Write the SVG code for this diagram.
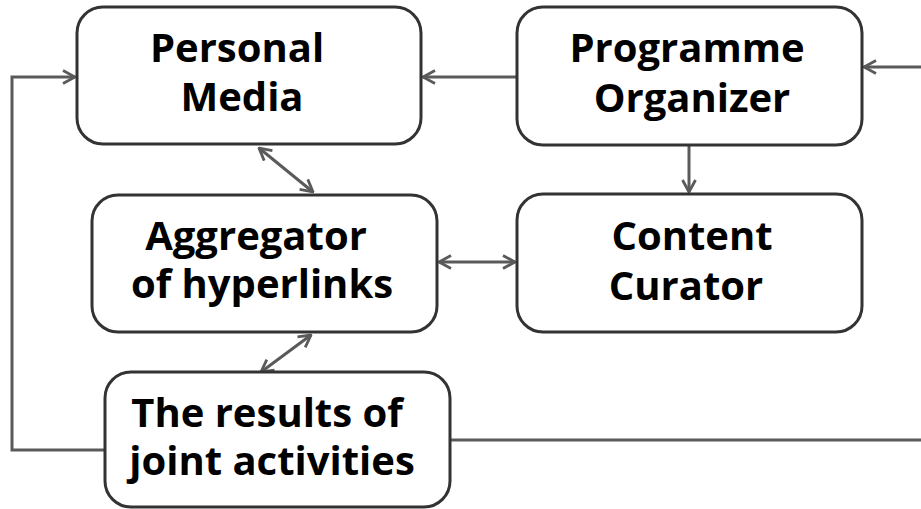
<svg xmlns="http://www.w3.org/2000/svg" width="921" height="509" viewBox="0 0 921 509">
  <style>
    .box { fill: #ffffff; stroke: #333333; stroke-width: 3; }
    .lbl { font-family: "Open Sans", "Liberation Sans", sans-serif; font-weight: 700; font-size: 40px; fill: #000000; text-anchor: middle; }
    .wire { fill: none; stroke: #5a5a5a; stroke-width: 3; }
  </style>
  <defs>
    <marker id="head" viewBox="0 0 16 16" refX="15" refY="8" markerWidth="16" markerHeight="16" markerUnits="userSpaceOnUse" orient="auto-start-reverse">
      <path d="M3,1.5 L15,8 L3,14.5" fill="none" stroke="#5a5a5a" stroke-width="2.8" stroke-linejoin="miter"/>
    </marker>
  </defs>
  <rect width="921" height="509" fill="#ffffff"/>

  <g id="connectors">
    <!-- Programme Organizer to Personal Media -->
    <line class="wire" x1="517" y1="77" x2="423" y2="77" marker-end="url(#head)"/>
    <!-- incoming from the right edge -->
    <line class="wire" x1="921" y1="67" x2="864" y2="67" marker-end="url(#head)"/>
    <!-- Programme Organizer to Content Curator -->
    <line class="wire" x1="689" y1="145" x2="689" y2="192" marker-end="url(#head)"/>
    <!-- Aggregator <-> Content Curator -->
    <line class="wire" x1="439" y1="262" x2="515" y2="262" marker-start="url(#head)" marker-end="url(#head)"/>
    <!-- Personal Media <-> Aggregator -->
    <line class="wire" x1="259" y1="148" x2="313" y2="192" marker-start="url(#head)" marker-end="url(#head)"/>
    <!-- Aggregator <-> Results -->
    <line class="wire" x1="311" y1="335" x2="261" y2="372" marker-start="url(#head)" marker-end="url(#head)"/>
    <!-- Results loop back to Personal Media -->
    <polyline class="wire" points="105,450 12,450 12,77 75,77" marker-end="url(#head)"/>
    <!-- Results out to the right edge -->
    <line class="wire" x1="450" y1="440" x2="921" y2="440"/>
  </g>

  <g id="personal-media">
    <rect class="box" x="77" y="7" width="344" height="137" rx="26"/>
    <text class="lbl" x="237" y="62">Personal</text>
    <text class="lbl" x="242" y="111">Media</text>
  </g>

  <g id="programme-organizer">
    <rect class="box" x="517" y="7" width="345" height="138" rx="26"/>
    <text class="lbl" x="687" y="62">Programme</text>
    <text class="lbl" x="692" y="112">Organizer</text>
  </g>

  <g id="aggregator">
    <rect class="box" x="92" y="195" width="345" height="137" rx="26"/>
    <text class="lbl" x="256" y="250">Aggregator</text>
    <text class="lbl" x="262" y="298">of hyperlinks</text>
  </g>

  <g id="content-curator">
    <rect class="box" x="517" y="194" width="345" height="138" rx="26"/>
    <text class="lbl" x="692" y="250">Content</text>
    <text class="lbl" x="686" y="300">Curator</text>
  </g>

  <g id="joint-results">
    <rect class="box" x="105" y="372" width="345" height="135" rx="26"/>
    <text class="lbl" x="267" y="427">The results of</text>
    <text class="lbl" x="272" y="475">joint activities</text>
  </g>
</svg>
